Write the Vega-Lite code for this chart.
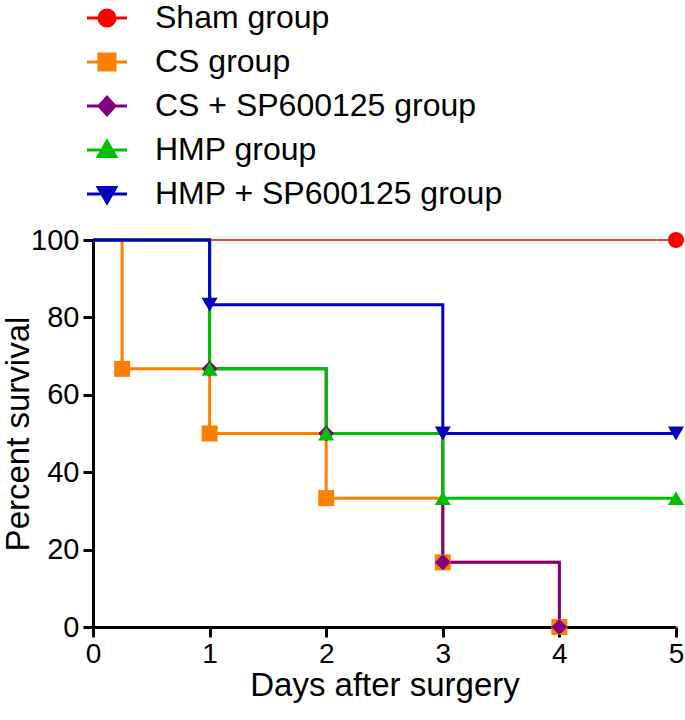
{
  "$schema": "https://vega.github.io/schema/vega-lite/v6.json",
  "width": 583,
  "height": 387,
  "autosize": "none",
  "padding": {"left": 93, "top": 240, "right": 9, "bottom": 93},
  "background": "white",
  "config": {
    "view": {"stroke": null},
    "font": "Liberation Sans",
    "axis": {
      "domainColor": "black", "domainWidth": 3, "tickColor": "black", "tickWidth": 3, "tickSize": 10,
      "grid": false, "labelColor": "black", "labelFont": "Liberation Sans", "labelFontSize": 29,
      "titleFont": "Liberation Sans", "titleFontSize": 33, "titleFontWeight": "normal", "titleColor": "black",
      "labelFlush": false, "labelOverlap": false
    },
    "legend": {
      "orient": "none", "legendX": -2, "legendY": -238, "direction": "vertical",
      "padding": 0, "symbolSize": 256, "labelFontSize": 32, "labelFont": "Liberation Sans", "labelColor": "black",
      "labelOffset": 32, "rowPadding": 12, "labelLimit": 500, "symbolOpacity": 1, "symbolStrokeWidth": 3
    }
  },
  "data": {"values": [
    {"group": "Sham group", "day": 0, "pct": 100, "marker": false},
    {"group": "Sham group", "day": 5, "pct": 100, "marker": true},
    {"group": "CS group", "day": 0, "pct": 100, "marker": false},
    {"group": "CS group", "day": 0.25, "pct": 66.7, "marker": true},
    {"group": "CS group", "day": 1, "pct": 50, "marker": true},
    {"group": "CS group", "day": 2, "pct": 33.3, "marker": true},
    {"group": "CS group", "day": 3, "pct": 16.7, "marker": true},
    {"group": "CS group", "day": 4, "pct": 0, "marker": true},
    {"group": "CS + SP600125 group", "day": 0, "pct": 100, "marker": false},
    {"group": "CS + SP600125 group", "day": 1, "pct": 66.7, "marker": true},
    {"group": "CS + SP600125 group", "day": 2, "pct": 50, "marker": true},
    {"group": "CS + SP600125 group", "day": 3, "pct": 16.7, "marker": true},
    {"group": "CS + SP600125 group", "day": 4, "pct": 0, "marker": true},
    {"group": "HMP group", "day": 0, "pct": 100, "marker": false},
    {"group": "HMP group", "day": 1, "pct": 66.7, "marker": true},
    {"group": "HMP group", "day": 2, "pct": 50, "marker": true},
    {"group": "HMP group", "day": 3, "pct": 33.3, "marker": true},
    {"group": "HMP group", "day": 5, "pct": 33.3, "marker": true},
    {"group": "HMP + SP600125 group", "day": 0, "pct": 100, "marker": false},
    {"group": "HMP + SP600125 group", "day": 1, "pct": 83.3, "marker": true},
    {"group": "HMP + SP600125 group", "day": 3, "pct": 50, "marker": true},
    {"group": "HMP + SP600125 group", "day": 5, "pct": 50, "marker": true}
  ]},
  "encoding": {
    "x": {"field": "day", "type": "quantitative", "scale": {"domain": [0, 5], "nice": false, "zero": false},
          "axis": {"values": [0, 1, 2, 3, 4, 5], "title": "Days after surgery", "labelPadding": 3, "labelFontSize": 28,
                   "titleBaseline": "alphabetic", "titleY": 68, "titleX": 291.5, "titleAlign": "center"}},
    "y": {"field": "pct", "type": "quantitative", "scale": {"domain": [0, 100], "nice": false},
          "axis": {"values": [0, 20, 40, 60, 80, 100], "title": "Percent survival", "labelPadding": 4,
                   "titleBaseline": "alphabetic", "titleAngle": 270, "titleAlign": "center", "titleX": -65, "titleY": 193.5}}
  },
  "layer": [
    {"transform": [{"filter": "datum.group === 'Sham group'"}],
     "mark": {"type": "line", "interpolate": "step-after", "strokeWidth": 1.5, "color": "#FF0000"}},
    {"transform": [{"filter": "datum.group === 'CS group'"}],
     "mark": {"type": "line", "interpolate": "step-after", "strokeWidth": 3, "color": "#FF8000"}},
    {"transform": [{"filter": "datum.group === 'CS + SP600125 group'"}],
     "mark": {"type": "line", "interpolate": "step-after", "strokeWidth": 3, "color": "#800080"}},
    {"transform": [{"filter": "datum.group === 'HMP group'"}],
     "mark": {"type": "line", "interpolate": "step-after", "strokeWidth": 3, "color": "#00C000"}},
    {"transform": [{"filter": "datum.group === 'HMP + SP600125 group'"}],
     "mark": {"type": "line", "interpolate": "step-after", "strokeWidth": 3, "color": "#0000C0"}},
    {"transform": [{"filter": "datum.marker && datum.group === 'Sham group'"}],
     "mark": {"type": "point", "filled": true, "opacity": 1, "size": 256, "shape": "circle", "color": "#FF0000"}},
    {"transform": [{"filter": "datum.marker && datum.group === 'CS group'"}],
     "mark": {"type": "point", "filled": true, "opacity": 1, "size": 256, "shape": "square", "color": "#FF8000"}},
    {"transform": [{"filter": "datum.marker && datum.group === 'CS + SP600125 group'"}],
     "mark": {"type": "point", "filled": true, "opacity": 1, "size": 256, "shape": "diamond", "color": "#800080"}},
    {"transform": [{"filter": "datum.marker && datum.group === 'HMP group'"}],
     "mark": {"type": "point", "filled": true, "opacity": 1, "size": 256, "shape": "triangle-up", "color": "#00C000"}},
    {"transform": [{"filter": "datum.marker && datum.group === 'HMP + SP600125 group'"}],
     "mark": {"type": "point", "filled": true, "opacity": 1, "size": 256, "shape": "triangle-down", "color": "#0000C0"}},
    {"mark": {"type": "point", "filled": true, "opacity": 0, "size": 256, "strokeWidth": 3},
     "encoding": {
       "shape": {"field": "group", "type": "nominal", "legend": {"title": null},
         "scale": {"domain": ["Sham group", "CS group", "CS + SP600125 group", "HMP group", "HMP + SP600125 group"],
                   "range": ["M-2.5,0H2.5M1,0A1,1 0 1,1 -1,0A1,1 0 1,1 1,0Z", "M-2.5,0H2.5M-1,-1H1V1H-1Z", "M-2.5,0H2.5M0,-1.1L1,0L0,1.1L-1,0Z", "M-2.5,0H2.5M0,-1.1L1.1,0.8H-1.1Z", "M-2.5,0H2.5M0,1.1L1.1,-0.8H-1.1Z"]}},
       "fill": {"field": "group", "type": "nominal", "legend": {"title": null},
         "scale": {"domain": ["Sham group", "CS group", "CS + SP600125 group", "HMP group", "HMP + SP600125 group"],
                   "range": ["#FF0000", "#FF8000", "#800080", "#00C000", "#0000C0"]}},
       "stroke": {"field": "group", "type": "nominal", "legend": {"title": null},
         "scale": {"domain": ["Sham group", "CS group", "CS + SP600125 group", "HMP group", "HMP + SP600125 group"],
                   "range": ["#FF0000", "#FF8000", "#800080", "#00C000", "#0000C0"]}}
     }}
  ]
}
